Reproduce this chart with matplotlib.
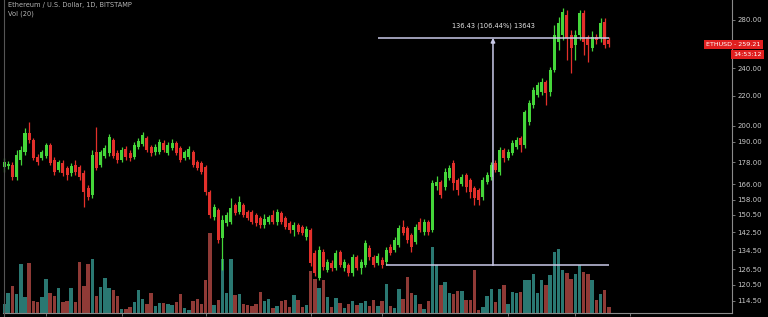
import matplotlib.pyplot as plt
import matplotlib.transforms as mtransforms

title = "Ethereum / U.S. Dollar, 1D, BITSTAMP"
vol_title = "Vol (20)"

opens = [175.3, 175.9, 176.4, 169.8, 179.3, 183.9, 195.3, 191.1, 181.0, 180.5,
         181.6, 188.0, 179.3, 173.7, 177.6, 174.8, 172.1, 176.4, 175.3, 172.1,
         164.0, 160.4, 183.9, 176.4, 181.6, 183.4, 191.1, 183.4, 179.3, 185.7,
         183.4, 181.0, 186.9, 188.6, 192.3, 186.9, 183.9, 183.9, 189.2, 183.4,
         186.3, 189.2, 186.3, 180.5, 181.0, 183.9, 178.2, 177.6, 175.3, 161.9,
         149.5, 152.9, 139.9, 146.7, 147.2, 155.3, 152.0, 155.3, 152.0, 152.0,
         150.5, 149.1, 145.8, 147.2, 150.5, 147.2, 151.5, 149.1, 146.7, 143.4,
         145.8, 144.9, 140.3, 143.4, 133.3, 123.1, 133.8, 126.3, 129.1, 127.1,
         133.8, 127.1, 128.3, 125.1, 131.7, 127.1, 128.3, 135.5, 131.7, 129.1,
         130.4, 129.6, 135.9, 134.6, 136.8, 144.9, 144.4, 141.2, 138.1, 147.2,
         142.5, 147.2, 143.4, 165.1, 167.2, 164.5, 169.3, 177.6, 168.2, 166.1,
         170.9, 168.2, 164.0, 162.9, 159.4, 167.2, 169.8, 177.6, 172.6, 185.1,
         180.5, 183.4, 186.9, 192.3, 188.0, 202.3, 213.6, 220.5, 222.6, 229.8,
         222.6, 238.8, 261.1, 266.9, 284.5, 266.9, 258.6, 266.9, 286.3, 265.2,
         256.1, 265.2, 264.4, 278.3, 262.7]
highs = [180.4, 178.7, 178.2, 185.1, 187.4, 198.5, 202.3, 192.3, 182.8, 185.1,
         189.2, 189.2, 181.0, 179.3, 179.3, 175.9, 177.6, 179.3, 176.4, 173.7,
         165.6, 185.1, 199.1, 185.1, 188.0, 194.7, 192.3, 185.1, 186.9, 187.4,
         185.1, 189.8, 192.3, 195.9, 193.5, 188.0, 188.6, 191.7, 191.1, 189.8,
         191.7, 190.5, 187.4, 185.1, 187.4, 185.1, 179.3, 178.7, 176.4, 162.9,
         155.8, 153.9, 150.5, 152.0, 158.8, 156.3, 159.9, 156.3, 152.9, 152.9,
         151.5, 150.0, 151.0, 150.5, 152.9, 153.4, 152.4, 150.0, 147.6, 147.2,
         146.7, 145.8, 145.3, 144.4, 134.6, 136.4, 135.0, 130.8, 130.4, 134.6,
         134.6, 130.8, 129.1, 132.9, 132.5, 130.8, 139.0, 136.8, 132.5, 133.3,
         131.7, 135.9, 137.2, 140.3, 145.8, 148.1, 145.3, 142.1, 146.3, 149.1,
         148.6, 148.1, 168.2, 170.4, 168.2, 174.8, 176.4, 179.3, 169.3, 171.5,
         172.1, 169.3, 165.1, 164.0, 169.8, 172.6, 178.2, 179.3, 186.9, 186.3,
         185.7, 191.1, 192.9, 193.5, 210.2, 217.0, 226.2, 229.8, 232.8, 231.3,
         241.1, 275.6, 282.7, 291.0, 289.1, 271.2, 271.2, 289.1, 289.1, 266.9,
         270.4, 267.8, 281.8, 281.8, 265.2]
lows = [172.6, 174.2, 168.2, 168.2, 176.4, 182.2, 189.2, 179.3, 176.4, 179.3,
        180.5, 176.4, 170.9, 172.6, 170.4, 168.2, 170.4, 170.9, 168.2, 154.3,
        157.8, 158.8, 173.7, 175.3, 180.5, 181.6, 180.5, 177.6, 178.2, 179.3,
        178.7, 179.8, 185.7, 187.4, 183.9, 181.6, 182.2, 182.8, 183.9, 182.2,
        185.1, 182.2, 178.2, 179.3, 179.8, 175.3, 173.7, 171.5, 160.4, 149.1,
        148.1, 137.7, 126.3, 145.3, 146.3, 150.5, 151.0, 149.5, 148.1, 146.3,
        145.3, 144.4, 144.4, 146.3, 146.3, 145.8, 146.3, 143.9, 142.1, 140.8,
        141.6, 141.2, 139.0, 127.9, 123.9, 122.3, 126.3, 125.5, 125.9, 126.3,
        127.5, 125.9, 123.9, 123.9, 126.3, 124.7, 127.5, 130.4, 127.5, 128.3,
        127.1, 128.2, 132.5, 133.8, 135.9, 141.2, 137.7, 133.8, 137.2, 142.5,
        141.2, 141.2, 142.5, 162.9, 158.8, 162.9, 168.2, 162.9, 160.4, 165.1,
        161.9, 158.8, 155.3, 155.3, 157.8, 166.1, 168.2, 172.6, 170.9, 178.2,
        179.3, 182.2, 185.7, 183.9, 186.3, 200.4, 211.6, 219.1, 220.5, 213.6,
        219.8, 237.3, 254.5, 262.7, 246.5, 236.5, 246.5, 262.7, 250.5, 245.0,
        253.7, 259.4, 261.1, 256.1, 256.9]
closes = [178.2, 176.9, 169.8, 182.2, 185.1, 195.3, 191.1, 180.5, 178.2, 183.9,
          188.0, 177.6, 172.6, 178.2, 172.1, 170.9, 175.9, 172.6, 169.8, 161.9,
          159.4, 182.2, 174.8, 183.9, 186.3, 192.9, 181.6, 179.3, 185.1, 181.0,
          180.5, 188.0, 190.5, 194.1, 185.1, 183.4, 186.9, 189.8, 185.1, 188.0,
          189.2, 183.4, 179.3, 183.9, 185.7, 176.4, 174.8, 172.6, 161.9, 150.5,
          154.3, 139.0, 148.1, 150.5, 153.9, 151.5, 156.8, 150.5, 149.1, 147.2,
          146.7, 145.8, 148.6, 149.5, 147.2, 152.0, 147.2, 144.9, 143.4, 145.8,
          142.5, 142.1, 143.9, 129.1, 125.1, 134.6, 127.5, 129.6, 127.1, 133.3,
          128.3, 129.6, 125.1, 131.7, 127.1, 129.6, 137.7, 131.7, 128.3, 132.1,
          128.3, 134.6, 133.3, 139.0, 144.4, 142.1, 139.0, 135.9, 144.9, 143.4,
          147.2, 142.5, 166.6, 167.2, 160.4, 172.6, 174.8, 166.6, 162.9, 169.8,
          164.5, 161.9, 158.8, 157.8, 168.2, 170.9, 176.4, 173.7, 185.1, 180.5,
          183.9, 189.2, 191.1, 188.0, 208.9, 214.9, 224.0, 227.6, 229.8, 221.9,
          238.8, 266.9, 277.4, 287.3, 264.4, 256.1, 266.9, 286.3, 261.1, 258.6,
          265.2, 262.7, 277.4, 258.6, 259.21]
# volume (thousands)
volumes = [9, 20, 27, 19, 49, 16, 50, 12, 11, 16, 34, 20, 17, 25, 11, 12, 25, 11, 51, 27,
           49, 54, 17, 26, 35, 25, 23, 17, 4, 4, 6, 11, 23, 14, 9, 20, 7, 10, 10, 9,
           8, 11, 19, 5, 3, 12, 14, 9, 33, 80, 8, 13, 54, 20, 54, 18, 19, 9, 8, 7,
           9, 21, 12, 14, 5, 7, 12, 13, 6, 18, 13, 6, 8, 42, 34, 25, 33, 16, 6, 15,
           10, 5, 9, 12, 8, 10, 12, 7, 13, 7, 12, 29, 7, 5, 24, 14, 36, 20, 18, 9,
           4, 12, 66, 48, 28, 31, 20, 19, 22, 22, 13, 13, 43, 3, 6, 17, 24, 11, 24, 28,
           9, 21, 20, 21, 33, 33, 39, 20, 33, 28, 38, 61, 64, 43, 40, 34, 39, 48, 41, 39,
           33, 13, 19, 23, 6]

price_ticks = [280, 240, 220, 200, 190, 178, 166, 158, 150.5, 142.5, 134.5, 126.5, 120.5, 114.5]
time_ticks = [10, 28, 48, 73, 90, 120, 136, 149]

measure_low = 128.17
measure_high = 264.60
measure_start = 89
measure_start_low = 91
measure_end = 144
measure_x = 116.4
measure_text = "136.43 (106.44%) 13643"
last_label = "ETHUSD - 259.21"
countdown = "14:53:12"

UP = "#45d63a"
DOWN = "#e3302b"
VOL_UP = "#2a7872"
VOL_DOWN = "#8f3a36"
GRID = "#8a8a8a"
TXT = "#c8c8c8"
LINE = "#c9c9e8"

fig = plt.figure(figsize=(7.68, 3.17), dpi=100, facecolor="#000000")
ax = fig.add_axes([3 / 768, 4 / 317, 729 / 768, 313 / 317])
vax = ax.twinx()
ax.set_zorder(vax.get_zorder() + 1)
ax.patch.set_visible(False)
vax.set_facecolor("#000000")

n = len(closes)
xs = list(range(n))
up = [c >= o for o, c in zip(opens, closes)]

vax.bar(xs, volumes, width=0.82, color=[VOL_UP if u else VOL_DOWN for u in up], linewidth=0)
vax.set_ylim(0, max(volumes) * 313 / 80)
vax.set_yticks([])
for s in vax.spines.values():
    s.set_visible(False)

cols = [UP if u else DOWN for u in up]
ax.vlines(xs, lows, highs, colors=cols, linewidth=0.9)
bottoms = [min(o, c) for o, c in zip(opens, closes)]
heights = [max(abs(c - o), 0.4) for o, c in zip(opens, closes)]
ax.bar(xs, heights, bottom=bottoms, width=0.72, color=cols, linewidth=0)

ax.set_yscale("log")
ax.set_ylim(110.1, 298.4)
ax.set_xlim(-0.24, 173.3)
ax.set_yticks(price_ticks)
ax.set_yticklabels([f"{t:.2f}" for t in price_ticks])
ax.yaxis.set_minor_locator(plt.NullLocator())
ax.yaxis.tick_right()
ax.tick_params(axis="y", colors=GRID, labelcolor=TXT, labelsize=5, length=2, width=0.6, pad=2)
ax.set_xticks(time_ticks)
ax.set_xticklabels([])
ax.tick_params(axis="x", colors=GRID, length=2, width=0.6)
for side in ["left", "top"]:
    ax.spines[side].set_visible(False)
ax.spines["right"].set_color(GRID)
ax.spines["bottom"].set_color(GRID)
ax.spines["right"].set_linewidth(0.8)
ax.spines["bottom"].set_linewidth(0.8)
fig.add_artist(plt.Line2D([3.5 / 768, 3.5 / 768], [0, 1], color="#555555", lw=0.8))

# price range measure
ax.hlines(measure_high, measure_start, measure_end, color=LINE, lw=1.1)
ax.hlines(measure_low, measure_start_low, measure_end, color=LINE, lw=1.1)
ax.annotate("", xy=(measure_x, measure_high), xytext=(measure_x, measure_low),
            arrowprops=dict(arrowstyle="-|>,head_length=0.25,head_width=0.12", color=LINE, lw=1.1,
                            shrinkA=0, shrinkB=0))
ax.annotate(measure_text, xy=(measure_x, measure_high), xytext=(0, 6), textcoords="offset points",
            ha="center", va="bottom", fontsize=4.8, color="#e6e6e6")

# last price labels
tr = mtransforms.blended_transform_factory(fig.transFigure, ax.transData)
ax.text(733.5 / 768, closes[-1], last_label, transform=tr, ha="center", va="center", fontsize=4.6,
        color="white", bbox=dict(boxstyle="square,pad=0.3", fc="#e01f1f", ec="none"), clip_on=False)
ax.annotate(countdown, xy=(747.5 / 768, closes[-1]), xycoords=tr, xytext=(0, -7.5),
            textcoords="offset points", ha="center", va="center", fontsize=4.6, color="white",
            bbox=dict(boxstyle="square,pad=0.3", fc="#e01f1f", ec="none"), annotation_clip=False)

fig.text(8 / 768, 1 - 5 / 317, title, ha="left", va="center", fontsize=4.8, color="#b4b4b4")
fig.text(8 / 768, 1 - 14 / 317, vol_title, ha="left", va="center", fontsize=4.8, color="#b4b4b4")

fig.savefig("out.png", dpi=100, facecolor=fig.get_facecolor())
